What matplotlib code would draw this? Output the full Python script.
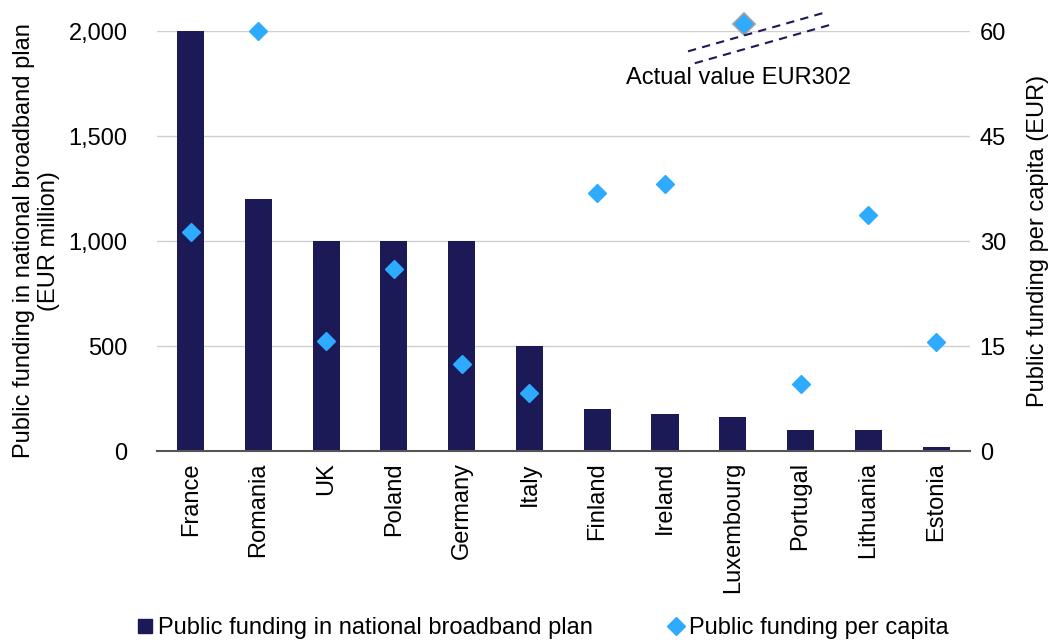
import matplotlib.pyplot as plt
import numpy as np

plt.rcParams['font.family'] = ['Liberation Sans', 'DejaVu Sans']

# --- Données ---
pays = ["France", "Romania", "UK", "Poland", "Germany", "Italy", "Finland",
        "Ireland", "Luxembourg", "Portugal", "Lithuania", "Estonia"]
financement = [2000, 1200, 1000, 1000, 1000, 500, 200, 175, 160, 100, 100, 20]
par_habitant = [31.3, 60, 15.7, 26, 12.4, 8.3, 36.9, 38.1, 61, 9.6, 33.7, 15.6]
luxembourg_reel = "Actual value EUR302"

couleur_barre = "#1b1a57"
couleur_point = "#2eaaff"

fig = plt.figure(figsize=(10.52, 6.41), dpi=100)
ax = fig.add_axes([0.149, 0.2964, 0.773, 0.6552])
x = np.arange(len(pays))

ax.bar(x, financement, width=0.4, color=couleur_barre, zorder=2,
       label="Public funding in national broadband plan")
ax.set_ylim(0, 2000)
ax.set_xlim(-0.5, len(pays) - 0.5)
ax.set_yticks(range(0, 2001, 500))
ax.set_yticklabels([f"{v:,}" for v in range(0, 2001, 500)])
ax.grid(True, axis='y', color='#d0d0d0', linewidth=1, zorder=0)
ax.set_axisbelow(True)
ax.set_xticks(x)
ax.set_xticklabels(pays, rotation=90)
for s in ["top", "left", "right"]:
    ax.spines[s].set_visible(False)
ax.spines["bottom"].set_color("#555555")
ax.spines["bottom"].set_linewidth(1.5)
ax.tick_params(axis='x', length=0, labelsize=17, pad=8)
ax.tick_params(axis='y', length=0, labelsize=17, pad=21)
ax.set_ylabel("Public funding in national broadband plan\n(EUR million)", fontsize=17, labelpad=6)

ax2 = ax.twinx()
ax2.set_ylim(0, 60)
ax2.set_yticks(range(0, 61, 15))
for s in ["top", "left", "right", "bottom"]:
    ax2.spines[s].set_visible(False)
ax2.tick_params(axis='y', length=0, labelsize=17, pad=7)
ax2.set_ylabel("Public funding per capita (EUR)", fontsize=17, labelpad=15)

# points normaux et Luxembourg (hors échelle) à part
idx_lux = pays.index("Luxembourg")
normaux = [i for i in x if i != idx_lux]
ax2.plot([x[i] for i in normaux], [par_habitant[i] for i in normaux], linestyle='none',
         marker='D', markersize=9.5, color=couleur_point, zorder=3, clip_on=False,
         label="Public funding per capita")
ax2.plot(x[idx_lux] + 0.17, par_habitant[idx_lux], linestyle='none', marker='D',
         markersize=11, markerfacecolor=couleur_point, markeredgecolor='#a0a0a0',
         markeredgewidth=1.2, clip_on=False, zorder=4)

# double trait de rupture d'échelle
for dx, dy in [(0, 0), (0.1, -1.7)]:
    ax2.plot([x[idx_lux] - 0.66 + dx, x[idx_lux] + 1.38 + dx], [57.1 + dy, 62.7 + dy],
             linestyle=(0, (4, 3)), color=couleur_barre, linewidth=1.5, clip_on=False, zorder=5)
ax2.text(x[idx_lux] + 0.08, 53.3, luxembourg_reel, fontsize=17, ha='center', va='center')

# légende
h1, l1 = ax.get_legend_handles_labels()
h2, l2 = ax2.get_legend_handles_labels()
leg = fig.legend(
    [plt.Line2D([], [], marker='s', linestyle='none', markersize=10, color=couleur_barre), h2[0]],
    [l1[0], l2[0]], loc='center', bbox_to_anchor=(0.514, 0.02), ncol=2, frameon=False,
    fontsize=17, handletextpad=0.05, columnspacing=3.0, handlelength=1)

fig.savefig("out.png", dpi=100)
